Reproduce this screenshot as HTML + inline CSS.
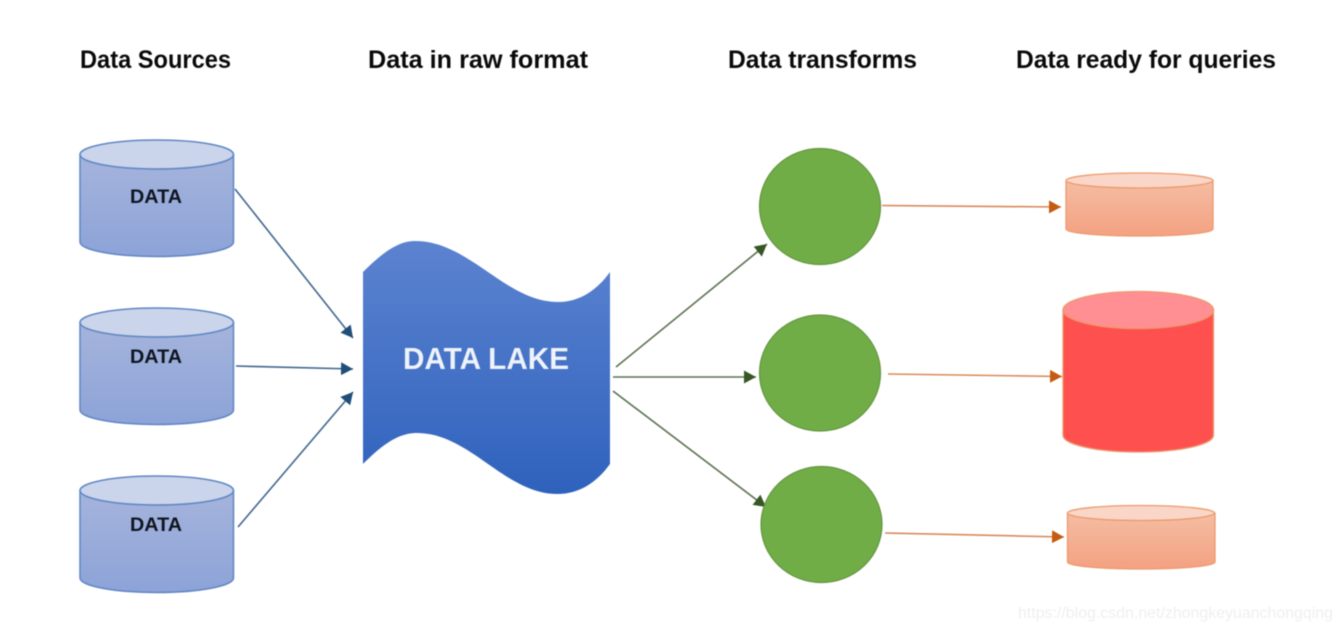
<!DOCTYPE html>
<html><head><meta charset="utf-8"><style>
html,body{margin:0;padding:0;background:#fff;width:1342px;height:631px;overflow:hidden}
svg{display:block;filter:blur(.5px)}
text{font-family:"Liberation Sans",sans-serif}
.h{font-weight:bold;font-size:25px;fill:#0a0a0a}
.d{font-weight:bold;font-size:19px;fill:#0f1520}
</style></head><body>
<svg width="1342" height="631" viewBox="0 0 1342 631" xmlns="http://www.w3.org/2000/svg">
<defs>
<linearGradient id="b" x1="0" y1="0" x2="0" y2="1"><stop offset="0" stop-color="#a5b4dc"/><stop offset="1" stop-color="#8da3d8"/></linearGradient>
<linearGradient id="l" x1="0" y1="0" x2="0" y2="1"><stop offset="0" stop-color="#5c83d0"/><stop offset="1" stop-color="#2f62bd"/></linearGradient>
<linearGradient id="o" x1="0" y1="0" x2="0" y2="1"><stop offset="0" stop-color="#f5bda3"/><stop offset="1" stop-color="#f4a182"/></linearGradient>
<marker id="mb" markerUnits="userSpaceOnUse" markerWidth="14" markerHeight="14" refX="12" refY="6.500" orient="auto"><path d="M0 0L12 6.500L0 13z" fill="#1f4e79"/></marker>
<marker id="mg" markerUnits="userSpaceOnUse" markerWidth="14" markerHeight="14" refX="12" refY="6.500" orient="auto"><path d="M0 0L12 6.500L0 13z" fill="#375623"/></marker>
<marker id="mo" markerUnits="userSpaceOnUse" markerWidth="14" markerHeight="14" refX="12" refY="6.500" orient="auto"><path d="M0 0L12 6.500L0 13z" fill="#c55a11"/></marker>
</defs>
<text class="h" x="80" y="68" textLength="151" lengthAdjust="spacingAndGlyphs">Data Sources</text>
<text class="h" x="368" y="68" textLength="220" lengthAdjust="spacingAndGlyphs">Data in raw format</text>
<text class="h" x="728" y="68" textLength="189" lengthAdjust="spacingAndGlyphs">Data transforms</text>
<text class="h" x="1016" y="68" textLength="260" lengthAdjust="spacingAndGlyphs">Data ready for queries</text>

<g stroke="#5f86c4" stroke-width="1.5">
<path d="M80 154.500V242A76.750 14.500 0 0 0 233.500 242V154.500z" fill="url(#b)"/><ellipse cx="156.750" cy="154.500" rx="76.750" ry="14.500" fill="#cad4ea"/>
<path d="M80 322.500V410A76.750 14.500 0 0 0 233.500 410V322.500z" fill="url(#b)"/><ellipse cx="156.750" cy="322.500" rx="76.750" ry="14.500" fill="#cad4ea"/>
<path d="M80 490.500V578A76.750 14.500 0 0 0 233.500 578V490.500z" fill="url(#b)"/><ellipse cx="156.750" cy="490.500" rx="76.750" ry="14.500" fill="#cad4ea"/>
</g>
<text class="d" x="130" y="203" textLength="52" lengthAdjust="spacingAndGlyphs">DATA</text>
<text class="d" x="130" y="363" textLength="52" lengthAdjust="spacingAndGlyphs">DATA</text>
<text class="d" x="130" y="531" textLength="52" lengthAdjust="spacingAndGlyphs">DATA</text>

<g stroke="#41668f" stroke-width="1.6" fill="none">
<path d="M235 189L353 338" marker-end="url(#mb)"/>
<path d="M236 366L353 369" marker-end="url(#mb)"/>
<path d="M238 527L353 392" marker-end="url(#mb)"/>
</g>

<path d="M363 272C385 250 400 241 415 241C470 241 505 302 558 302C580 302 597 290 610 272V464C597 482 580 494 557 494C505 494 470 433 417 433C400 433 385 442 363 464Z" fill="url(#l)"/>
<text x="403" y="369" font-size="31" font-weight="bold" fill="#eef2fa" textLength="166" lengthAdjust="spacingAndGlyphs">DATA LAKE</text>

<g stroke="#5a7050" stroke-width="1.6" fill="none">
<path d="M616 367L767 244" marker-end="url(#mg)"/>
<path d="M613 377L756 377" marker-end="url(#mg)"/>
<path d="M613 391L766 507" marker-end="url(#mg)"/>
</g>

<g fill="#70ad47" stroke="#64963f" stroke-width="1.2">
<ellipse cx="820" cy="206.500" rx="60.500" ry="58"/>
<ellipse cx="820" cy="373" rx="60.500" ry="58"/>
<ellipse cx="821.500" cy="524.500" rx="60.500" ry="58"/>
</g>

<g stroke="#d98a5c" stroke-width="1.6" fill="none">
<path d="M882 205.500L1061 207" marker-end="url(#mo)"/>
<path d="M888 374L1062 376.500" marker-end="url(#mo)"/>
<path d="M885 533L1064 537" marker-end="url(#mo)"/>
</g>

<g stroke="#ec9a6c" stroke-width="1.3">
<path d="M1066 180.500V229C1066 233 1099 236 1139.500 236S1213 233 1213 229V180.500z" fill="url(#o)"/><ellipse cx="1139.500" cy="180.500" rx="73.500" ry="7.500" fill="#f9d6c8"/>
<path d="M1067.500 513V562C1067.500 566 1100 569 1141 569S1215 566 1215 562V513z" fill="url(#o)"/><ellipse cx="1141" cy="513" rx="73.500" ry="7.500" fill="#f9d6c8"/>
<path d="M1063 310V435C1063 445 1097 452 1138 452S1213.500 445 1213.500 435V310z" fill="#ff5050"/><ellipse cx="1138.250" cy="310" rx="75.250" ry="18.500" fill="#ff8f92"/>
</g>

<text x="1018" y="618" font-size="16" fill="#efefef" textLength="315" lengthAdjust="spacingAndGlyphs">https://blog.csdn.net/zhongkeyuanchongqing</text>
</svg>
</body></html>
